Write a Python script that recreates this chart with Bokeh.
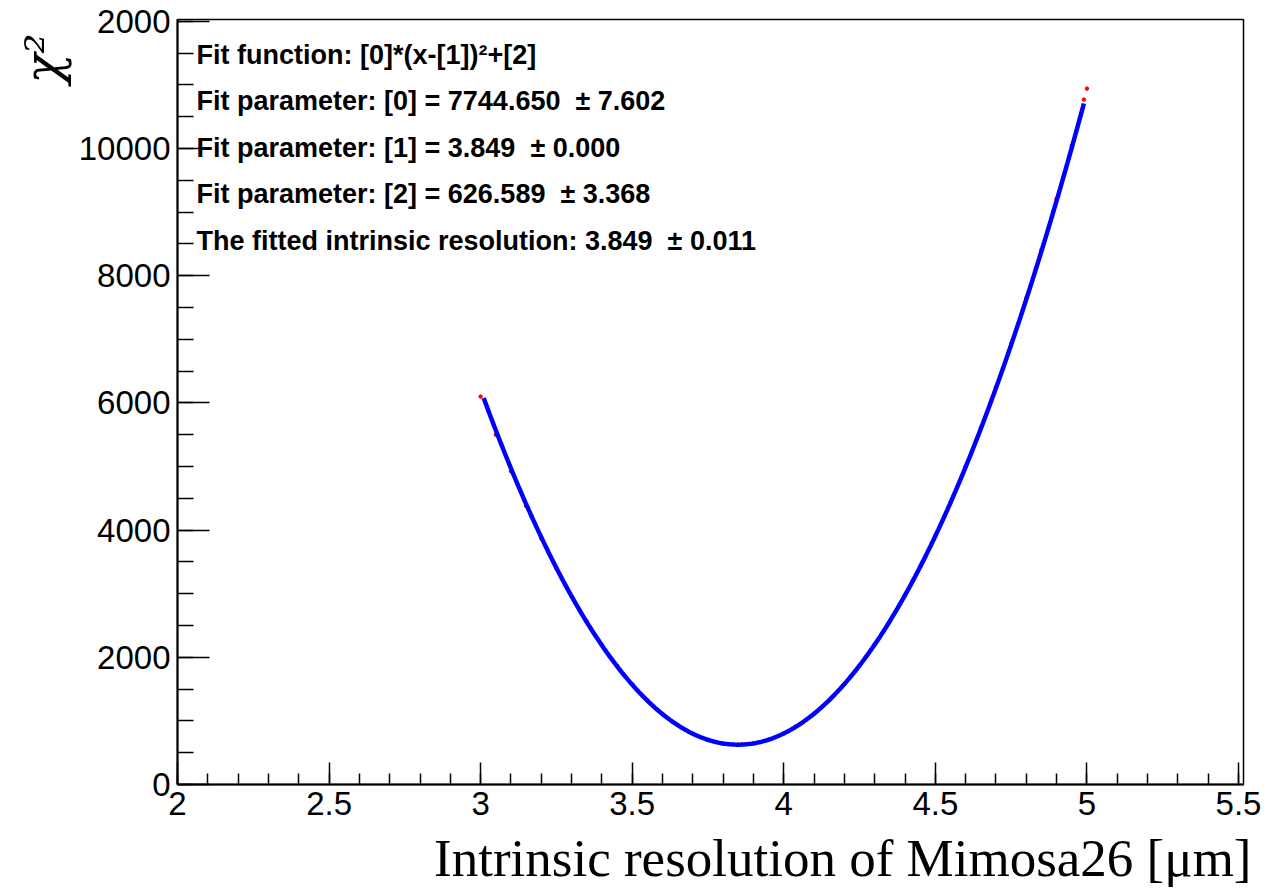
import numpy as np
from bokeh.plotting import figure
from bokeh.models import Range1d, SingleIntervalTicker, Label, Title
from bokeh.embed import file_html
from bokeh.resources import INLINE

# ---- data ----
resolution = [3.00, 3.05, 3.10, 3.15, 3.20, 3.25, 3.30, 3.35, 3.40, 3.45,
              3.50, 3.55, 3.60, 3.65, 3.70, 3.75, 3.80, 3.85, 3.90, 3.95,
              4.00, 4.05, 4.10, 4.15, 4.20, 4.25, 4.30, 4.35, 4.40, 4.45,
              4.50, 4.55, 4.60, 4.65, 4.70, 4.75, 4.80, 4.85, 4.90, 4.95,
              4.99, 5.00]
chi2 = [6100, 5500, 4925, 4380, 3868, 3396, 2960, 2560, 2194, 1866,
        1576, 1324, 1111, 936, 800, 703, 645, 626, 646, 704,
        801, 937, 1112, 1325, 1577, 1868, 2199, 2568, 2977, 3424,
        3910, 4436, 5000, 5604, 6248, 6930, 7652, 8410, 9210, 10045,
        10770, 10943]

# fit result shown on the chart
fit_p0 = 7744.650
fit_p1 = 3.849
fit_p2 = 626.589
fit_xmin, fit_xmax = 3.01, 4.99

SP = "\u00a0 "
fit_lines = [
    "Fit function: [0]*(x-[1])\u00b2+[2]",
    "Fit parameter: [0] = 7744.650" + SP + "\u00b1 7.602",
    "Fit parameter: [1] = 3.849" + SP + "\u00b1 0.000",
    "Fit parameter: [2] = 626.589" + SP + "\u00b1 3.368",
    "The fitted intrinsic resolution: 3.849" + SP + "\u00b1 0.011",
]

x_title = "Intrinsic resolution of Mimosa26 [\u03bcm]"
y_title = "\u03c7\u00b2"

X_MIN, X_MAX = 2.0, 5.5165
Y_MIN, Y_MAX = 0.0, 12030.0

p = figure(width=1285, height=895, output_backend="svg", toolbar_location=None,
           x_range=Range1d(X_MIN, X_MAX), y_range=Range1d(Y_MIN, Y_MAX))
p.min_border_left = 177
p.min_border_right = 42
p.min_border_top = 19
p.min_border_bottom = 111
p.background_fill_color = "white"
p.border_fill_color = "white"
p.outline_line_color = "black"
p.outline_line_width = 1.5
p.xgrid.grid_line_color = None
p.ygrid.grid_line_color = None

# axes
p.xaxis.ticker = SingleIntervalTicker(interval=0.5, num_minor_ticks=5)
p.yaxis.ticker = SingleIntervalTicker(interval=2000, num_minor_ticks=4)
p.yaxis.major_label_overrides = {12000: "2000"}
for ax in (p.xaxis[0], p.yaxis[0]):
    ax.axis_line_width = 2
    ax.axis_line_color = "black"
    ax.major_tick_out = 0
    ax.minor_tick_out = 0
    ax.major_tick_line_width = 1.5
    ax.minor_tick_line_width = 1.5
    ax.major_tick_line_color = "black"
    ax.minor_tick_line_color = "black"
    ax.major_label_text_font = "Liberation Sans"
    ax.major_label_text_font_size = "33px"
    ax.major_label_text_color = "black"
p.xaxis.major_tick_in = 22
p.xaxis.minor_tick_in = 11
p.yaxis.major_tick_in = 32
p.yaxis.minor_tick_in = 16
p.xaxis.major_label_standoff = 7
p.yaxis.major_label_standoff = 7

# data points (red) and fit curve (blue)
p.scatter(resolution, chi2, size=3.5, color="red", marker="circle")
fx = np.linspace(fit_xmin, fit_xmax, 400)
fy = fit_p0 * (fx - fit_p1) ** 2 + fit_p2
p.line(fx, fy, line_color="blue", line_width=4.5)

# fit text
offsets = [35, 81.5, 128, 174.5, 221]
for txt, off in zip(fit_lines, offsets):
    p.add_layout(Label(x=X_MIN, y=Y_MAX, x_offset=19, y_offset=-off, text=txt,
                       text_font="Liberation Sans", text_font_style="bold",
                       text_font_size="27px", text_color="black",
                       text_align="left", text_baseline="alphabetic"))

# axis titles
p.add_layout(Title(text=x_title, align="right", offset=-8, standoff=18,
                   text_font="Liberation Serif", text_font_style="normal",
                   text_font_size="53px", text_color="black"), "below")
p.add_layout(Title(text=y_title, align="right", offset=14, standoff=8,
                   text_font="DejaVu Serif", text_font_style="italic",
                   text_font_size="50px", text_color="black"), "left")

open("out.html", "w").write(file_html(p, INLINE))
